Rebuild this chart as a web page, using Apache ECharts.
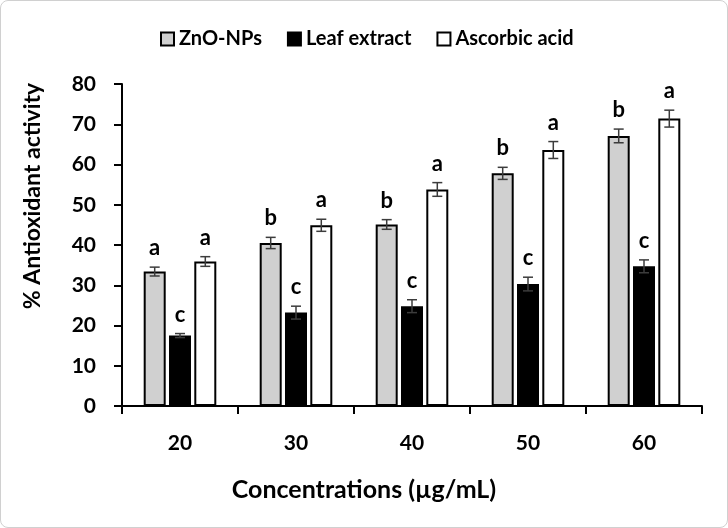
<!DOCTYPE html>
<html>
<head>
<meta charset="utf-8">
<script src="https://cdn.jsdelivr.net/npm/echarts@6/dist/echarts.min.js"></script>
<style>
html,body{margin:0;padding:0;background:#fff;}
#frame{position:absolute;left:0;top:0;width:728px;height:528px;box-sizing:border-box;border:1px solid #d0d0d0;border-radius:8px;}
#chart{position:absolute;left:0;top:0;width:728px;height:528px;}
</style>
</head>
<body>
<div id="frame"></div>
<div id="chart"></div>
<script>
const categories = ['20', '30', '40', '50', '60'];
const seriesNames = ['ZnO-NPs', 'Leaf extract', 'Ascorbic acid'];
const znoValues = [33.4, 40.5, 45.1, 57.8, 67.1];
const leafValues = [17.5, 23.2, 24.8, 30.3, 34.7];
const ascorbicValues = [35.9, 44.9, 53.8, 63.6, 71.4];
const znoErrors = [1.1, 1.4, 1.2, 1.5, 1.7];
const leafErrors = [0.5, 1.6, 1.6, 1.7, 1.6];
const ascorbicErrors = [1.2, 1.5, 1.7, 2.1, 2.1];
const znoLetters = ['a', 'b', 'b', 'b', 'b'];
const leafLetters = ['c', 'c', 'c', 'c', 'c'];
const ascorbicLetters = ['a', 'a', 'a', 'a', 'a'];
const yTicks = {min: 0, max: 80, interval: 10};

const FONT = 'Lato';
const BAR_W = 22;
const PITCH = 25.3;
const colors = ['#d0d0d0', '#000000', '#ffffff'];
const valueSets = [znoValues, leafValues, ascorbicValues];
const errorSets = [znoErrors, leafErrors, ascorbicErrors];
const letterSets = [znoLetters, leafLetters, ascorbicLetters];

const chart = echarts.init(document.getElementById('chart'), null, {renderer: 'canvas'});

const barSeries = seriesNames.map((name, i) => ({
  name: name,
  type: 'bar',
  data: valueSets[i],
  barWidth: BAR_W,
  barGap: '15%',
  itemStyle: {color: colors[i], borderColor: '#000', borderWidth: 2},
  emphasis: {disabled: true},
  z: 2
}));

const errSeries = seriesNames.map((name, i) => ({
  name: name + ' err',
  type: 'custom',
  z: 3,
  silent: true,
  data: valueSets[i].map((v, k) => [k, v, errorSets[i][k], letterSets[i][k]]),
  renderItem: function (params, api) {
    const idx = api.value(0);
    const v = api.value(1);
    const e = api.value(2);
    const letter = letterSets[i][idx];
    const off = (i - 1) * PITCH;
    const x = api.coord([idx, v])[0] + off;
    const yTop = api.coord([idx, v + e])[1];
    const yBot = api.coord([idx, v - e])[1];
    const cap = 5;
    const st = {stroke: '#3c3c3c', lineWidth: 1.5};
    return {
      type: 'group',
      children: [
        {type: 'line', shape: {x1: x, y1: yTop, x2: x, y2: yBot}, style: st},
        {type: 'line', shape: {x1: x - cap, y1: yTop, x2: x + cap, y2: yTop}, style: st},
        {type: 'line', shape: {x1: x - cap, y1: yBot, x2: x + cap, y2: yBot}, style: st},
        {type: 'text', x: x, y: yTop - 8, style: {text: letter, fill: '#000', font: 'bold 22px ' + FONT, textAlign: 'center', textVerticalAlign: 'bottom'}}
      ]
    };
  }
}));

chart.setOption({
  animation: false,
  backgroundColor: 'transparent',
  textStyle: {fontFamily: FONT},
  legend: {
    data: seriesNames,
    icon: 'rect',
    left: 155,
    top: 24,
    itemWidth: 13,
    itemHeight: 13,
    itemGap: 25,
    textStyle: {fontFamily: FONT, fontWeight: 'bold', fontSize: 20, color: '#000', padding: [0, 0, 0, 0]},
    selectedMode: false
  },
  grid: {left: 122, right: 26, top: 84, bottom: 122, containLabel: false},
  xAxis: {
    type: 'category',
    data: categories,
    axisLine: {lineStyle: {color: '#000', width: 2}},
    axisTick: {show: true, length: 8, lineStyle: {color: '#000', width: 2}},
    axisLabel: {color: '#000', fontFamily: FONT, fontWeight: 'bold', fontSize: 21, margin: 27}
  },
  yAxis: {
    type: 'value',
    min: yTicks.min,
    max: yTicks.max,
    interval: yTicks.interval,
    splitLine: {show: false},
    axisLine: {show: true, lineStyle: {color: '#000', width: 2}},
    axisTick: {show: true, length: 8, lineStyle: {color: '#000', width: 2}},
    axisLabel: {color: '#000', fontFamily: FONT, fontWeight: 'bold', fontSize: 21, margin: 26}
  },
  graphic: [
    {type: 'text', left: 'center', top: 477, style: {text: 'Concentrations (µg/mL)', fill: '#000', font: 'bold 25px ' + FONT}},
    {type: 'text', x: 33, y: 196, rotation: Math.PI / 2, style: {text: '% Antioxidant activity', fill: '#000', font: 'bold 23px ' + FONT, textAlign: 'center', textVerticalAlign: 'middle'}}
  ],
  series: barSeries.concat(errSeries)
});
</script>
</body>
</html>
